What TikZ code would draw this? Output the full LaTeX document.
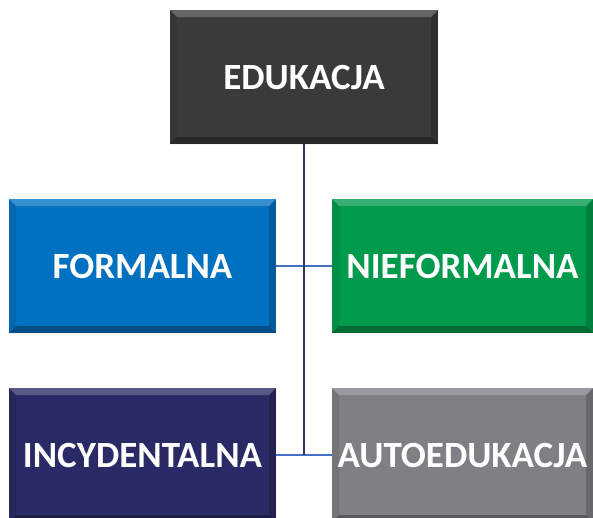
\documentclass[tikz,border=0pt]{standalone}
\usepackage{fontspec}
\setmainfont{Carlito}
\definecolor{edugray}{HTML}{3A3A3A}
\definecolor{formblue}{HTML}{0070C0}
\definecolor{nieformgreen}{HTML}{009A4C}
\definecolor{incnavy}{HTML}{2A2A66}
\definecolor{autogray}{HTML}{808084}
\definecolor{trunkline}{HTML}{2B3566}
\definecolor{branchline}{HTML}{4472C4}
\tikzset{
    bevelbox/.style={
        rectangle, fill=#1, text=white, inner sep=0pt,
        font=\bfseries\fontsize{37}{44}\selectfont,
        path picture={
            \fill[white, opacity=0.22]
                (path picture bounding box.north west)
                -- (path picture bounding box.north east)
                -- ([xshift=-7pt,yshift=-7pt]path picture bounding box.north east)
                -- ([xshift=7pt,yshift=-7pt]path picture bounding box.north west)
                -- cycle;
            \fill[black, opacity=0.30]
                (path picture bounding box.south west)
                -- (path picture bounding box.south east)
                -- ([xshift=-7pt,yshift=7pt]path picture bounding box.south east)
                -- ([xshift=7pt,yshift=7pt]path picture bounding box.south west)
                -- cycle;
            \fill[black, opacity=0.18]
                (path picture bounding box.north east)
                -- (path picture bounding box.south east)
                -- ([xshift=-7pt,yshift=7pt]path picture bounding box.south east)
                -- ([xshift=-7pt,yshift=-7pt]path picture bounding box.north east)
                -- cycle;
            \fill[black, opacity=0.08]
                (path picture bounding box.north west)
                -- (path picture bounding box.south west)
                -- ([xshift=7pt,yshift=7pt]path picture bounding box.south west)
                -- ([xshift=7pt,yshift=-7pt]path picture bounding box.north west)
                -- cycle;
        }
    },
    trunk/.style={draw=trunkline, line width=2.2pt},
    branch/.style={draw=branchline, line width=1.6pt}
}
\begin{document}
\begin{tikzpicture}[x=1pt, y=-1pt]
    \useasboundingbox (0,0) rectangle (593,517);
    \clip (0,0) rectangle (593,517);

    %boxes
    \node[bevelbox=edugray, minimum width=268pt, minimum height=134pt]
        (edukacja) at (304,77) {EDUKACJA};
    \node[bevelbox=formblue, minimum width=267pt, minimum height=134pt]
        (formalna) at (142.5,266) {FORMALNA};
    \node[bevelbox=nieformgreen, minimum width=261pt, minimum height=134pt]
        (nieformalna) at (462.5,266) {NIEFORMALNA};
    \node[bevelbox=incnavy, minimum width=267pt, minimum height=134pt]
        (incydentalna) at (142.5,455) {INCYDENTALNA};
    \node[bevelbox=autogray, minimum width=261pt, minimum height=134pt]
        (autoedukacja) at (462.5,455) {AUTOEDUKACJA};

    %connectors
    \coordinate (T) at (edukacja.south |- incydentalna.east);
    \draw[branch] (formalna.east) -- (nieformalna.west);
    \draw[branch] (incydentalna.east) -- (autoedukacja.west);
    \draw[trunk] (edukacja.south) -- (T);
\end{tikzpicture}
\end{document}
